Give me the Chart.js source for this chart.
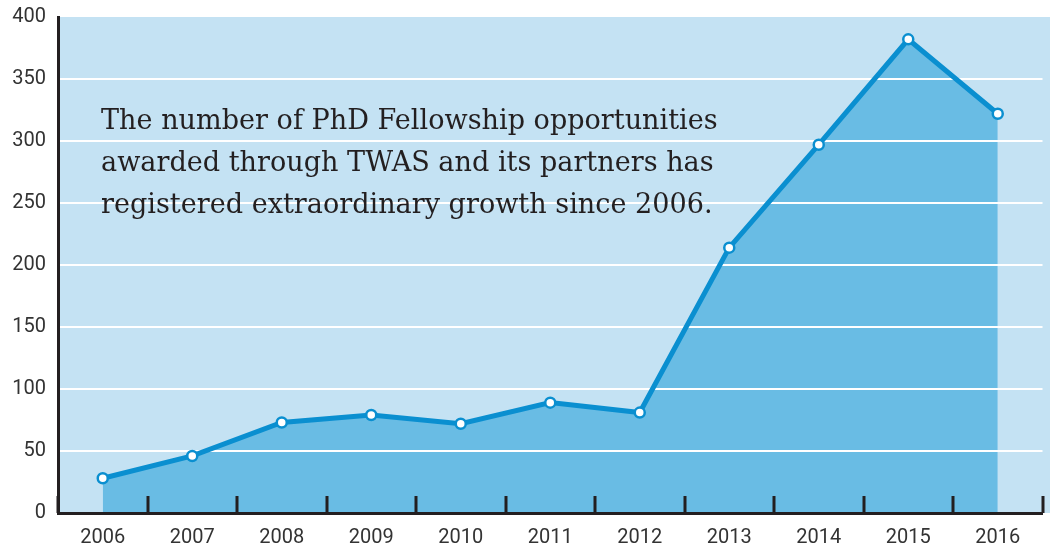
<!DOCTYPE html>
<html>
<head>
<meta charset="utf-8">
<script src="https://cdn.jsdelivr.net/npm/chart.js@4/dist/chart.umd.min.js"></script>
<style>
  html, body { margin: 0; padding: 0; background: #fff; }
  #wrap { width: 1050px; height: 548px; }
</style>
</head>
<body>
<div id="wrap"><canvas id="chart"></canvas></div>
<script>
// Données
const years = ['2006', '2007', '2008', '2009', '2010', '2011', '2012', '2013', '2014', '2015', '2016'];
const fellowships = [28, 46, 73, 79, 72, 89, 81, 214, 297, 382, 322];
const yTicks = [0, 50, 100, 150, 200, 250, 300, 350, 400];
const noteLines = [
    'The number of PhD Fellowship opportunities',
    'awarded through TWAS and its partners has',
    'registered extraordinary growth since 2006.'
];

const LINE_BLUE = '#0a8fd0';
const FILL_BLUE = '#69bce4';
const BG_BLUE = '#c4e2f3';
const AXIS_DARK = '#231f20';

// Fond bleu clair derrière la zone de tracé (dessiné en dessous de tout)
const plotBackground = {
    id: 'plotBackground',
    beforeDraw(chart) {
        const { ctx, chartArea } = chart;
        ctx.save();
        ctx.globalCompositeOperation = 'destination-over';
        ctx.fillStyle = BG_BLUE;
        ctx.fillRect(chartArea.left, chartArea.top, chart.width - chartArea.left, chartArea.bottom - chartArea.top);
        ctx.restore();
    }
};

// Petits traits verticaux entre les années, vers le haut
const innerTicks = {
    id: 'innerTicks',
    afterDraw(chart) {
        const { ctx, chartArea } = chart;
        const x = chart.scales.x;
        const step = x.getPixelForValue(1) - x.getPixelForValue(0);
        ctx.save();
        ctx.strokeStyle = AXIS_DARK;
        ctx.lineWidth = 3;
        for (let i = 0; i <= years.length; i++) {
            const px = Math.round(x.getPixelForValue(i) - step / 2);
            ctx.beginPath();
            ctx.moveTo(px, chartArea.bottom);
            ctx.lineTo(px, chartArea.bottom - 17);
            ctx.stroke();
        }
        ctx.restore();
    }
};

// Texte d'annotation dans le graphique
const noteText = {
    id: 'noteText',
    afterDatasetsDraw(chart) {
        const { ctx, chartArea } = chart;
        ctx.save();
        let size = 26;
        ctx.font = size + 'px "DejaVu Serif"';
        const widest = Math.max(...noteLines.map(l => ctx.measureText(l).width));
        size = size * 617 / widest;
        ctx.font = size.toFixed(2) + 'px "DejaVu Serif"';
        ctx.fillStyle = '#231f20';
        ctx.textBaseline = 'alphabetic';
        noteLines.forEach((line, i) => {
            ctx.fillText(line, chartArea.left + 43, chartArea.top + 112 + i * 42);
        });
        ctx.restore();
    }
};

new Chart(document.getElementById('chart'), {
    type: 'line',
    data: {
        labels: years,
        datasets: [{
            data: fellowships,
            borderColor: LINE_BLUE,
            borderWidth: 5,
            backgroundColor: FILL_BLUE,
            fill: 'origin',
            tension: 0,
            pointRadius: 5,
            pointBorderWidth: 2.5,
            pointBackgroundColor: '#fff',
            pointBorderColor: LINE_BLUE,
            clip: false
        }]
    },
    options: {
        responsive: true,
        maintainAspectRatio: false,
        animation: false,
        layout: { padding: { top: 17, right: 1, left: 0, bottom: 0 } },
        plugins: {
            legend: { display: false },
            tooltip: { enabled: false },
            filler: { drawTime: 'beforeDraw' }
        },
        scales: {
            x: {
                offset: true,
                grid: { display: false },
                border: { display: true, color: AXIS_DARK, width: 3 },
                ticks: {
                    color: '#333',
                    font: { family: 'Roboto', size: 20 },
                    padding: 5,
                    maxRotation: 0
                },
                afterFit(scale) {
                    scale.height = 35;
                    scale.paddingLeft = 0;
                    scale.paddingRight = 0;
                }
            },
            y: {
                min: 0,
                max: 400,
                afterBuildTicks(scale) { scale.ticks = yTicks.map(v => ({ value: v })); },
                grid: {
                    color: c => (c.tick.value === 0 || c.tick.value === 400) ? 'rgba(0,0,0,0)' : '#ffffff',
                    lineWidth: 2,
                    drawTicks: false
                },
                border: { display: true, color: AXIS_DARK, width: 3 },
                ticks: {
                    color: '#333',
                    font: { family: 'Roboto', size: 20 },
                    padding: 12
                },
                afterFit(scale) {
                    scale.width = 58;
                    scale.paddingTop = 0;
                    scale.paddingBottom = 0;
                }
            }
        }
    },
    plugins: [plotBackground, innerTicks, noteText]
});
</script>
</body>
</html>
